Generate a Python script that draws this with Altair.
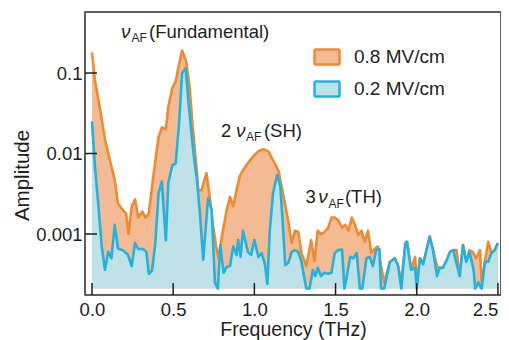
import altair as alt
import pandas as pd

# ---------------- data ----------------
freq_08 = [0.000, 0.018, 0.050, 0.080, 0.110, 0.140, 0.160, 0.180, 0.200, 0.210,
           0.225, 0.245, 0.265, 0.285, 0.310, 0.330, 0.350, 0.375, 0.410, 0.430,
           0.455, 0.470, 0.495, 0.515, 0.535, 0.555, 0.580, 0.600, 0.620, 0.640,
           0.655, 0.675, 0.705, 0.725, 0.745, 0.765, 0.780, 0.800, 0.830, 0.850,
           0.870, 0.890, 0.910, 0.930, 0.960, 0.995, 1.025, 1.055, 1.085, 1.115,
           1.150, 1.180, 1.210, 1.230, 1.250, 1.270, 1.290, 1.320, 1.350, 1.370,
           1.390, 1.410, 1.430, 1.455, 1.475, 1.495, 1.515, 1.540, 1.560, 1.580,
           1.600, 1.620, 1.640, 1.660, 1.680, 1.700, 1.720, 1.740, 1.760, 1.780,
           1.800, 1.835, 1.865, 1.885, 1.905, 1.930, 1.940, 1.965, 1.990, 2.000,
           2.020, 2.040, 2.060, 2.080, 2.100, 2.125, 2.140, 2.160, 2.180, 2.205,
           2.225, 2.245, 2.265, 2.285, 2.305, 2.325, 2.345, 2.365, 2.390, 2.400,
           2.420, 2.440, 2.460, 2.480, 2.500]
amp_08 = [0.18, 0.082, 0.035, 0.015, 0.0083, 0.0047, 0.0024, 0.0021, 0.0019, 0.0018,
          0.001, 0.0022, 0.0027, 0.0016, 0.0019, 0.0016, 0.0018, 0.0047, 0.016, 0.021,
          0.02, 0.038, 0.065, 0.078, 0.125, 0.19, 0.14, 0.07, 0.022, 0.008,
          0.0035, 0.0035, 0.0057, 0.0029, 0.0013, 0.0007, 0.0005, 0.00093, 0.002, 0.0029,
          0.0022, 0.0035, 0.0052, 0.0062, 0.0076, 0.0093, 0.0107, 0.0113, 0.0107, 0.0083,
          0.006, 0.0029, 0.0014, 0.00077, 0.0011, 0.00107, 0.00058, 0.0004, 0.00084, 0.00046,
          0.0011, 0.001, 0.00105, 0.0012, 0.0016, 0.0016, 0.0015, 0.0012, 0.0013, 0.0011,
          0.0016, 0.0013, 0.00097, 0.0011, 0.0008, 0.0011, 0.00058, 0.00065, 0.0007, 0.0004,
          0.00025, 0.00045, 0.0005, 0.0004, 0.00025, 0.00077, 0.0008, 0.00036, 0.00052, 0.00025,
          0.0005, 0.00042, 0.00063, 0.00093, 0.00063, 0.0004, 0.00038, 0.00038, 0.00045, 0.0006,
          0.00063, 0.00063, 0.0003, 0.00073, 0.00045, 0.00063, 0.0006, 0.0005, 0.00063, 0.00025,
          0.00045, 0.0008, 0.00058, 0.00063, 0.00077]

freq_02 = [0.000, 0.018, 0.040, 0.060, 0.080, 0.100, 0.120, 0.140, 0.160, 0.190,
           0.210, 0.220, 0.245, 0.265, 0.285, 0.315, 0.335, 0.350, 0.370, 0.390,
           0.410, 0.430, 0.455, 0.470, 0.495, 0.515, 0.535, 0.555, 0.577, 0.597,
           0.625, 0.645, 0.665, 0.685, 0.715, 0.737, 0.757, 0.775, 0.790, 0.810,
           0.830, 0.850, 0.870, 0.890, 0.900, 0.915, 0.930, 0.960, 0.980, 1.000,
           1.025, 1.045, 1.065, 1.080, 1.095, 1.115, 1.140, 1.160, 1.180, 1.190,
           1.210, 1.230, 1.250, 1.270, 1.290, 1.320, 1.340, 1.360, 1.375, 1.390,
           1.410, 1.430, 1.455, 1.475, 1.495, 1.515, 1.540, 1.555, 1.570, 1.590,
           1.610, 1.630, 1.650, 1.665, 1.690, 1.710, 1.730, 1.750, 1.770, 1.780,
           1.800, 1.835, 1.865, 1.885, 1.905, 1.930, 1.940, 1.965, 1.990, 2.000,
           2.020, 2.040, 2.060, 2.080, 2.100, 2.125, 2.140, 2.160, 2.180, 2.205,
           2.225, 2.245, 2.265, 2.285, 2.305, 2.325, 2.350, 2.360, 2.380, 2.400,
           2.420, 2.440, 2.460, 2.480, 2.500]
amp_02 = [0.025, 0.0069, 0.0022, 0.0007, 0.00036, 0.0006, 0.0005, 0.0013, 0.00066, 0.00063,
          0.00058, 0.00056, 0.0004, 0.00077, 0.00065, 0.00065, 0.0006, 0.00032, 0.00035, 0.00077,
          0.0032, 0.0045, 0.00084, 0.0043, 0.0072, 0.0075, 0.0215, 0.1, 0.114, 0.038,
          0.0102, 0.005, 0.0018, 0.00048, 0.0028, 0.002, 0.00025, 0.00021, 0.00073, 0.00033,
          0.00039, 0.0004, 0.0007, 0.00055, 0.00084, 0.00052, 0.0011, 0.0006, 0.00055, 0.00084,
          0.00052, 0.00058, 0.00042, 0.00024, 0.0011, 0.0032, 0.0054, 0.0039, 0.00093, 0.00041,
          0.00044, 0.0006, 0.00063, 0.0006, 0.00045, 0.00021, 0.00021, 0.00036, 0.0003, 0.00038,
          0.0003, 0.00033, 0.00032, 0.00033, 0.00058, 0.00063, 0.00064, 0.00021, 0.0003, 0.00052,
          0.0005, 0.00058, 0.00021, 0.00021, 0.0005, 0.00052, 0.0004, 0.00063, 0.00065, 0.00021,
          0.00021, 0.00045, 0.0005, 0.0004, 0.00021, 0.00077, 0.0008, 0.00036, 0.00038, 0.00021,
          0.0005, 0.00042, 0.00063, 0.00093, 0.00063, 0.0003, 0.00038, 0.00038, 0.00045, 0.0006,
          0.00063, 0.00043, 0.0003, 0.00073, 0.00045, 0.0006, 0.00036, 0.00021, 0.00025, 0.00021,
          0.00045, 0.00045, 0.00058, 0.00063, 0.00077]

series_names = ["0.8 MV/cm", "0.2 MV/cm"]
floor_amp = 0.00021
x_ticks = [0.0, 0.5, 1.0, 1.5, 2.0, 2.5]
y_ticks = [0.001, 0.01, 0.1]

# annotations (anchor positions in data units)
nu_text = ["ν", "ν", "ν"]
nu_freq = [0.179, 0.887, 1.394]
nu_amp = [0.272, 0.0162, 0.00243]
sub_text = ["AF", "AF", "AF"]
sub_freq = [0.243, 0.948, 1.456]
sub_amp = [0.243, 0.0144, 0.0021]
main_text = ["(Fundamental)", "2", "(SH)", "3", "(TH)"]
main_freq = [0.351, 0.794, 1.059, 1.315, 1.558]
main_amp = [0.272, 0.0162, 0.0162, 0.00243, 0.00243]

# ---------------- build ----------------
df = pd.concat([
    pd.DataFrame({"f": freq_08, "a": amp_08, "series": series_names[0]}),
    pd.DataFrame({"f": freq_02, "a": amp_02, "series": series_names[1]}),
], ignore_index=True)

FONT = "Liberation Sans"
INK = "#1e1e1e"
fill_colors = ["#F2BB93", "#BDE1E6"]
line_colors = ["#EE8A2F", "#22B2DD"]
W, H = 416, 283

xscale = alt.Scale(domain=[-0.043, 2.519], nice=False, zero=False)
yscale = alt.Scale(type="log", domain=[1.747e-4, 0.5725], nice=False)

xaxis = alt.Axis(values=x_ticks, format=".1f", title="Frequency (THz)",
                 labelFontSize=18.5, labelPadding=5, labelFlush=False,
                 labelAlign={"condition": {"test": "datum.value >= 2.5", "value": "right"},
                             "value": "center"},
                 titleFontSize=19.5, titleFontWeight="normal", titleBaseline="alphabetic",
                 titleY=40, ticks=False, domain=False, grid=False,
                 labelColor=INK, titleColor=INK, labelFont=FONT, titleFont=FONT)
yaxis = alt.Axis(values=y_ticks, format=".3~f", title="Amplitude",
                 labelFontSize=18.5, labelPadding=3,
                 titleFontSize=20.5, titleFontWeight="normal", titleBaseline="alphabetic",
                 titleAngle=270, titleAlign="center", titleX=-57, titleY=163,
                 ticks=False, domain=False, grid=False,
                 labelColor=INK, titleColor=INK, labelFont=FONT, titleFont=FONT)

RECT = ("M-0.9,-0.6H0.9Q1,-0.6,1,-0.5V0.5Q1,0.6,0.9,0.6H-0.9"
        "Q-1,0.6,-1,0.5V-0.5Q-1,-0.6,-0.9,-0.6Z")
legend = alt.Legend(title=None, orient="none", legendX=228, legendY=31,
                    symbolType=RECT, symbolSize=625, symbolStrokeWidth=2.5,
                    symbolOpacity=1, labelFontSize=19, labelFont=FONT, labelColor=INK,
                    labelOffset=13, rowPadding=5, padding=0)

fill_scale = alt.Scale(domain=series_names, range=fill_colors)
stroke_scale = alt.Scale(domain=series_names, range=line_colors)

X = alt.X("f:Q", scale=xscale, axis=xaxis)
Y = alt.Y("a:Q", scale=yscale, axis=yaxis)

base = alt.Chart(df)


def area(name):
    return base.transform_filter(alt.datum.series == name).mark_area(
        interpolate="linear", opacity=1).encode(
        x=X, y=Y, y2=alt.datum(floor_amp),
        fill=alt.Fill("series:N", scale=fill_scale, legend=legend))


def line(name):
    return base.transform_filter(alt.datum.series == name).mark_line(
        strokeWidth=2.6, strokeJoin="round", opacity=1).encode(
        x=X, y=Y,
        stroke=alt.Stroke("series:N", scale=stroke_scale, legend=legend))


tick_x = alt.Chart(pd.DataFrame({"f": x_ticks})).mark_rule(
    color=INK, strokeWidth=1.5).encode(
    x=X, y=alt.value(H), y2=alt.value(H - 12))
tick_y = alt.Chart(pd.DataFrame({"a": y_ticks})).mark_rule(
    color=INK, strokeWidth=1.5).encode(
    y=Y, x=alt.value(0), x2=alt.value(12))

nu_layer = alt.Chart(pd.DataFrame({"f": nu_freq, "a": nu_amp, "t": nu_text})).mark_text(
    font=FONT, fontSize=19, fontStyle="italic", align="left", baseline="alphabetic",
    color=INK).encode(x=X, y=Y, text="t:N")
sub_layer = alt.Chart(pd.DataFrame({"f": sub_freq, "a": sub_amp, "t": sub_text})).mark_text(
    font=FONT, fontSize=12, align="left", baseline="alphabetic",
    color=INK).encode(x=X, y=Y, text="t:N")
main_layer = alt.Chart(pd.DataFrame({"f": main_freq, "a": main_amp, "t": main_text})).mark_text(
    font=FONT, fontSize=18.5, align="left", baseline="alphabetic",
    color=INK).encode(x=X, y=Y, text="t:N")

chart = alt.layer(
    area(series_names[0]), line(series_names[0]),
    area(series_names[1]), line(series_names[1]),
    tick_x, tick_y, nu_layer, sub_layer, main_layer,
).properties(
    width=W, height=H,
    autosize=alt.AutoSizeParams(type="none"),
    padding={"left": 77, "top": 4, "right": 0, "bottom": 45},
).configure(font=FONT).configure_view(
    stroke="#2a2a2a", strokeWidth=1.5
)

chart.save("out.html", embed_options={"renderer": "svg", "actions": False})
